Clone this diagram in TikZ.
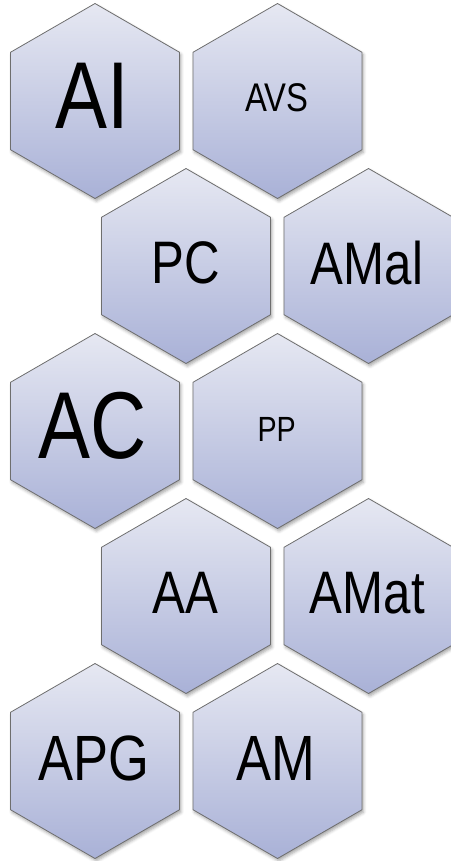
\documentclass[tikz,border=0pt]{standalone}
\usepackage{fontspec}
\newfontfamily\hexfont[FakeStretch=0.82]{Liberation Sans}
\usetikzlibrary{shapes.geometric,shadows.blur}
\definecolor{hextop}{HTML}{E6E8F2}
\definecolor{hexbot}{HTML}{A9B1D7}
\definecolor{hexline}{HTML}{6E6E6E}
\tikzset{
  hexcell/.style={regular polygon, regular polygon sides=6, shape border rotate=30,
    minimum size=195pt, inner sep=0pt, draw=hexline, line width=0.8pt,
    top color=hextop, bottom color=hexbot,
    blur shadow={shadow xshift=1.5pt, shadow yshift=-2.5pt, shadow blur radius=3pt, shadow opacity=35}},
  hexlabel/.style={inner sep=0pt, anchor=center, text=black},
}
\begin{document}
\begin{tikzpicture}[x=1pt,y=-1pt]
\useasboundingbox (0,0) rectangle (450,861);
% row 1
\node[hexcell] (hAI)   at (95,101) {};
\node[hexcell] (hAVS)  at (277.5,101) {};
% row 2
\node[hexcell] (hPC)   at (186,266) {};
\node[hexcell] (hAMal) at (368.5,266) {};
% row 3
\node[hexcell] (hAC)   at (95,431) {};
\node[hexcell] (hPP)   at (277.5,431) {};
% row 4
\node[hexcell] (hAA)   at (186,596) {};
\node[hexcell] (hAMat) at (368.5,596) {};
% row 5
\node[hexcell] (hAPG)  at (95,761) {};
\node[hexcell] (hAM)   at (277.5,761) {};
% labels
\node[hexlabel, font=\hexfont\fontsize{95}{100}\selectfont] (tAI) at (92,96) {AI};
\node[hexlabel, font=\hexfont\fontsize{40}{44}\selectfont] (tAVS) at (277,97.5) {AVS};
\node[hexlabel, font=\hexfont\fontsize{60}{64}\selectfont] (tPC) at (185.5,263.3) {PC};
\node[hexlabel, font=\hexfont\fontsize{60}{64}\selectfont] (tAMal) at (367,263.3) {AMal};
\node[hexlabel, font=\hexfont\fontsize{95}{100}\selectfont] (tAC) at (93,426) {AC};
\node[hexlabel, font=\hexfont\fontsize{35}{38}\selectfont] (tPP) at (276.7,429) {PP};
\node[hexlabel, font=\hexfont\fontsize{60}{64}\selectfont] (tAA) at (185.5,593) {AA};
\node[hexlabel, font=\hexfont\fontsize{60}{64}\selectfont] (tAMat) at (367.3,593) {AMat};
\node[hexlabel, font=\hexfont\fontsize{64}{68}\selectfont] (tAPG) at (93.5,758) {APG};
\node[hexlabel, font=\hexfont\fontsize{64}{68}\selectfont] (tAM) at (276,758) {AM};
\end{tikzpicture}
\end{document}
